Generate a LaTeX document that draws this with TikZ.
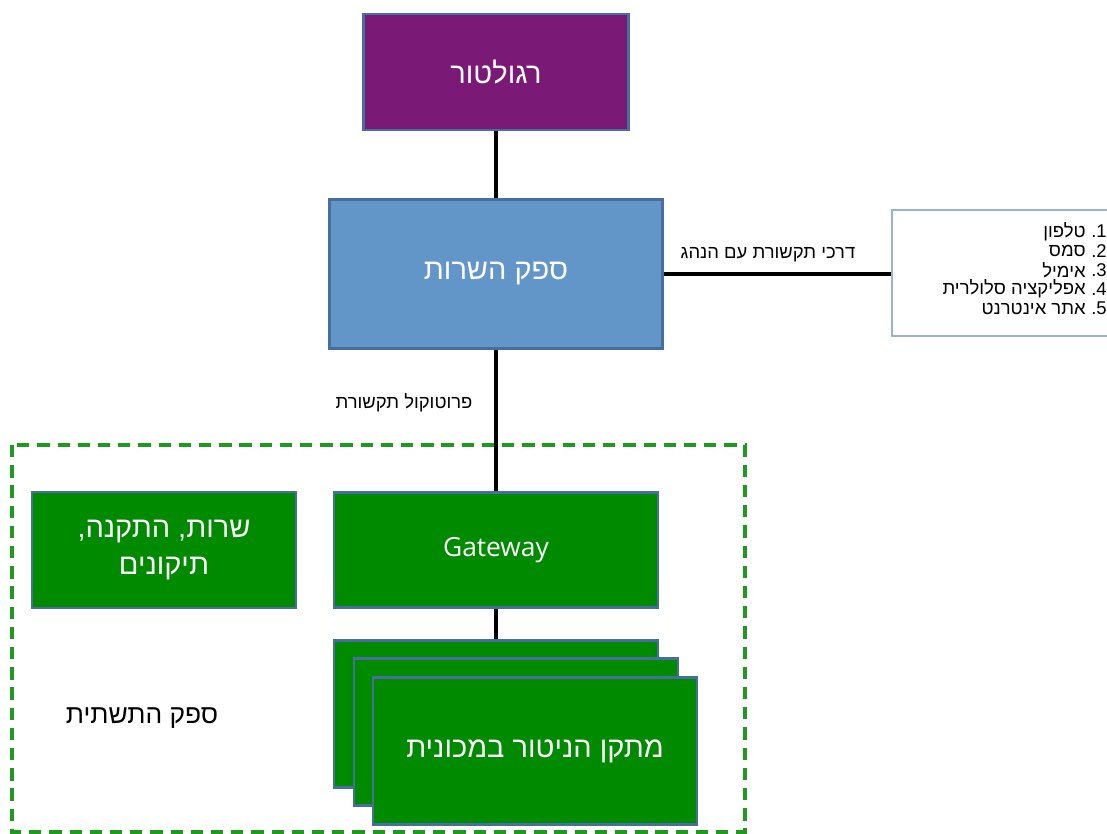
\documentclass[tikz,border=0pt]{standalone}
\usepackage{fontspec}
\setmainfont{Liberation Sans}
\newfontfamily\heb[Script=Hebrew]{Liberation Sans}
\newfontfamily\latinbox{Open Sans}
\TeXXeTstate=1
\definecolor{regpurple}{RGB}{123,26,118}
\definecolor{srvblue}{RGB}{98,150,200}
\definecolor{infragreen}{RGB}{0,138,0}
\definecolor{edgeblue}{RGB}{70,110,160}
\definecolor{listedge}{RGB}{150,180,210}
\definecolor{dashgreen}{RGB}{30,155,30}
\begin{document}
\begin{tikzpicture}[x=0.02cm, y=-0.02cm,
    unit/.style={draw=edgeblue, line width=1.3pt, text=white, align=center,
        font=\heb\fontsize{16.5}{21}\selectfont, inner sep=0pt},
    conn/.style={line width=1.8pt},
    lbl/.style={font=\heb\fontsize{10.5}{12}\selectfont, inner sep=0pt}]
    \useasboundingbox (0,0) rectangle (1107,834);

    % infrastructure provider area
    \draw[dashgreen, line width=2pt, dash pattern=on 7pt off 4.5pt] (12,445) rectangle (745,832);

    % top of the chain
    \node[unit, fill=regpurple, minimum width=5.3cm, minimum height=2.32cm] (reg) at (496,72) {\beginR רגולטור\endR};
    \node[unit, fill=srvblue, minimum width=6.66cm, minimum height=2.98cm] (srv) at (496,274) {\beginR ספק השרות\endR};

    % green units
    \node[unit, fill=infragreen, minimum width=6.48cm, minimum height=2.3cm, font=\latinbox\fontsize{15}{19}\selectfont] (gw) at (496,550) {Gateway};
    \node[unit, fill=infragreen, minimum width=5.28cm, minimum height=2.32cm] (svc) at (164,550) {\beginR שרות, התקנה,\endR\\\beginR תיקונים\endR};

    % stacked monitoring devices
    \foreach \i/\x/\y in {1/496/714, 2/516/732, 3/535/751}
        \node[unit, fill=infragreen, minimum width=6.48cm, minimum height=2.94cm] (mon\i) at (\x,\y) {};
    \node[text=white, font=\heb\fontsize{16.5}{21}\selectfont] (montxt) at (mon3) {\beginR מתקן הניטור במכונית\endR};

    % contact channel list
    \node[draw=listedge, line width=0.8pt, fill=white, minimum width=4.36cm, minimum height=2.52cm] (list) at (1001,273) {};
    \foreach \i/\t [evaluate=\i as \y using {212+19.3*\i}] in {1/טלפון, 2/סמס, 3/אימיל, 4/אפליקציה סלולרית, 5/אתר אינטרנט} {
        \node[lbl, anchor=east] (item\i) at (1086,\y) {\beginR \t\endR};
        \node[lbl, anchor=west, font=\rmfamily\fontsize{10.5}{12}\selectfont] (num\i) at (1091,\y) {.\i};
    }

    % connectors
    \draw[conn] (reg) -- (srv);
    \draw[conn] (srv) -- (gw);
    \draw[conn] (gw) -- (mon1);
    \draw[conn] (srv.east) -- (srv.east -| list.west);

    % labels
    \node[lbl] (chan) at (768,255) {\beginR דרכי תקשורת עם הנהג\endR};
    \node[lbl] (proto) at (404,403) {\beginR פרוטוקול תקשורת\endR};
    \node[lbl, font=\heb\fontsize{15}{17}\selectfont] (infra) at (142,718) {\beginR ספק התשתית\endR};
\end{tikzpicture}
\end{document}
